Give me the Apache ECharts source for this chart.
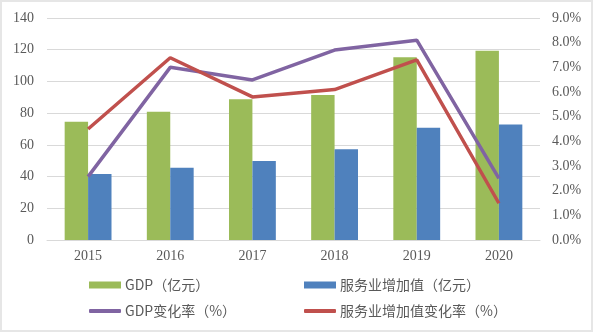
<!DOCTYPE html>
<html><head><meta charset="utf-8">
<script src="https://cdn.jsdelivr.net/npm/echarts@6/dist/echarts.min.js"></script>
<style>
html,body{margin:0;padding:0;background:#fff;}
#frame{position:absolute;left:0;top:0;width:589px;height:328px;border:2px solid #e6e6e6;}
#c{position:absolute;left:0;top:0;width:593px;height:332px;}
</style></head>
<body><div id="frame"></div><div id="c"></div>
<script>
const categories = ['2015','2016','2017','2018','2019','2020'];
const gdp = [74.6, 80.9, 88.7, 91.4, 115.2, 119.4];
const service = [41.6, 45.6, 49.8, 57.2, 70.8, 72.9];
const gdpRate = [2.57, 7.0, 6.49, 7.7, 8.1, 2.5];
const serviceRate = [4.5, 7.39, 5.8, 6.1, 7.3, 1.49];
const leftTicks = [0, 20, 40, 60, 80, 100, 120, 140];
const rightTicks = [0, 1, 2, 3, 4, 5, 6, 7, 8, 9];
const names = ['GDP（亿元）', '服务业增加值（亿元）', 'GDP变化率（%）', '服务业增加值变化率（%）'];

const chart = echarts.init(document.getElementById('c'), null, {renderer:'canvas'});
const labelColor = '#595959';
const serif = '"Liberation Serif", "Times New Roman", serif';
const legendText = {color: labelColor, fontSize: 14, fontFamily: '"Noto Sans CJK SC", "Noto Sans", sans-serif'};
function leg(name, left, top, isLine) {
  return {
    data: [name], left: left, top: top, itemWidth: 32, itemHeight: isLine ? 4 : 7,
    icon: isLine ? 'roundRect' : 'rect', itemGap: 4, padding: 0,
    textStyle: Object.assign({padding: [0, 0, 0, -1]}, legendText), selectedMode: false
  };
}
chart.setOption({
  animation: false,
  backgroundColor: 'transparent',
  grid: {left: 47, right: 53, top: 18, bottom: 92},
  legend: [
    leg(names[0], 89, 278, false),
    leg(names[1], 304, 278, false),
    leg(names[2], 89, 304, true),
    leg(names[3], 304, 304, true)
  ],
  xAxis: {
    type: 'category', data: categories,
    axisLine: {lineStyle: {color: '#d9d9d9'}},
    axisTick: {show: false},
    axisLabel: {color: labelColor, fontSize: 14, fontFamily: serif, margin: 9}
  },
  yAxis: [
    {type: 'value', min: leftTicks[0], max: leftTicks[leftTicks.length-1], interval: 20,
     axisLine: {show: false}, axisTick: {show: false},
     splitLine: {lineStyle: {color: '#d9d9d9'}},
     axisLabel: {color: labelColor, fontSize: 14, fontFamily: serif, margin: 13}},
    {type: 'value', min: rightTicks[0], max: rightTicks[rightTicks.length-1], interval: 1,
     axisLine: {show: false}, axisTick: {show: false}, splitLine: {show: false},
     axisLabel: {color: labelColor, fontSize: 14, fontFamily: serif, margin: 12,
       formatter: v => v.toFixed(1) + '%'}}
  ],
  series: [
    {name: names[0], type: 'bar', data: gdp, barWidth: '28.5%', barGap: '0%',
     itemStyle: {color: '#9BBB59'}},
    {name: names[1], type: 'bar', data: service, barWidth: '28.5%', barGap: '0%',
     itemStyle: {color: '#4F81BD'}},
    {name: names[2], type: 'line', yAxisIndex: 1, data: gdpRate, symbol: 'none',
     lineStyle: {color: '#8064A2', width: 3.5}, itemStyle: {color: '#8064A2'}},
    {name: names[3], type: 'line', yAxisIndex: 1, data: serviceRate, symbol: 'none',
     lineStyle: {color: '#C0504D', width: 3.5}, itemStyle: {color: '#C0504D'}}
  ]
});
</script></body></html>
